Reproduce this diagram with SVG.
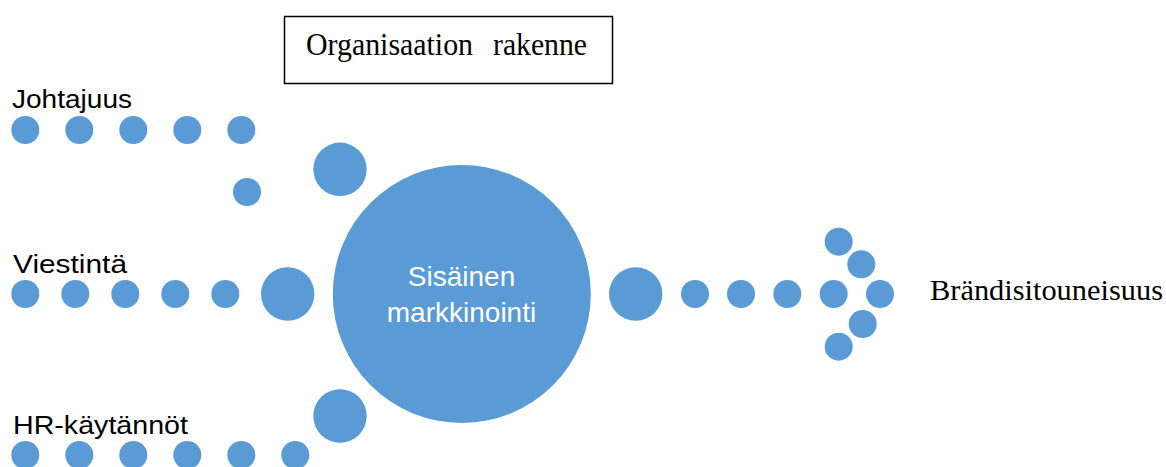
<svg xmlns="http://www.w3.org/2000/svg" width="1166" height="467" viewBox="0 0 1166 467">
<style>
.d{fill:#5B9BD5}
.lbl{font-family:"Liberation Sans",Arial,sans-serif;font-size:25px;fill:#000}
.ser{font-family:"Liberation Serif","Times New Roman",serif;fill:#000}
.ctr{font-family:"Liberation Sans",Arial,sans-serif;font-size:28px;fill:#fff;text-anchor:middle}
</style>
<rect width="1166" height="467" fill="#fff"/>
<g id="organisaation-rakenne">
<rect x="284.5" y="16.5" width="328" height="67" fill="#fff" stroke="#000" stroke-width="1.5"/>
<text class="ser" y="55" font-size="32"><tspan x="306" textLength="167" lengthAdjust="spacingAndGlyphs">Organisaation</tspan> <tspan x="493" textLength="94" lengthAdjust="spacingAndGlyphs">rakenne</tspan></text>
</g>
<g id="connectors">
<g id="johtajuus-dots">
<circle class="d" cx="25.3" cy="130" r="14"/>
<circle class="d" cx="79.3" cy="130" r="14"/>
<circle class="d" cx="133.3" cy="130" r="14"/>
<circle class="d" cx="187.3" cy="130" r="14"/>
<circle class="d" cx="241.3" cy="130" r="14"/>
<circle class="d" cx="247" cy="192" r="14"/>
<circle class="d" cx="340" cy="169.3" r="26.7"/>
</g>
<g id="viestinta-dots">
<circle class="d" cx="25.3" cy="294" r="14"/>
<circle class="d" cx="75.3" cy="294" r="14"/>
<circle class="d" cx="125.3" cy="294" r="14"/>
<circle class="d" cx="175.3" cy="294" r="14"/>
<circle class="d" cx="225.3" cy="294" r="14"/>
<circle class="d" cx="287.7" cy="294" r="26.7"/>
</g>
<g id="hr-dots">
<circle class="d" cx="25.3" cy="455" r="14"/>
<circle class="d" cx="79.3" cy="455" r="14"/>
<circle class="d" cx="133.3" cy="455" r="14"/>
<circle class="d" cx="187.3" cy="455" r="14"/>
<circle class="d" cx="241.3" cy="455" r="14"/>
<circle class="d" cx="295.3" cy="455" r="14"/>
<circle class="d" cx="340" cy="416" r="26.7"/>
</g>
<g id="output-arrow">
<circle class="d" cx="635.7" cy="294" r="26.7"/>
<circle class="d" cx="695" cy="294" r="14"/>
<circle class="d" cx="741" cy="294" r="14"/>
<circle class="d" cx="787.3" cy="294" r="14"/>
<circle class="d" cx="833.7" cy="294" r="14"/>
<circle class="d" cx="880" cy="294" r="14"/>
<circle class="d" cx="838.7" cy="241.7" r="14"/>
<circle class="d" cx="861.3" cy="264.3" r="14"/>
<circle class="d" cx="862.7" cy="324" r="14"/>
<circle class="d" cx="838.7" cy="346.7" r="14"/>
</g>
</g>
<g id="johtajuus"><text class="lbl" x="12" y="108" textLength="120" lengthAdjust="spacingAndGlyphs">Johtajuus</text></g>
<g id="viestinta"><text class="lbl" x="13" y="273" textLength="114" lengthAdjust="spacingAndGlyphs">Viestintä</text></g>
<g id="hr-kaytannot"><text class="lbl" x="13" y="434" textLength="175" lengthAdjust="spacingAndGlyphs">HR-käytännöt</text></g>
<g id="sisainen-markkinointi">
<circle class="d" cx="461.8" cy="294" r="129"/>
<text class="ctr" x="461.5" y="286">Sisäinen</text>
<text class="ctr" x="461.5" y="321.7">markkinointi</text>
</g>
<g id="brandisitouneisuus">
<text class="ser" x="930" y="300" font-size="29" textLength="233" lengthAdjust="spacingAndGlyphs">Brändisitouneisuus</text>
</g>
</svg>
